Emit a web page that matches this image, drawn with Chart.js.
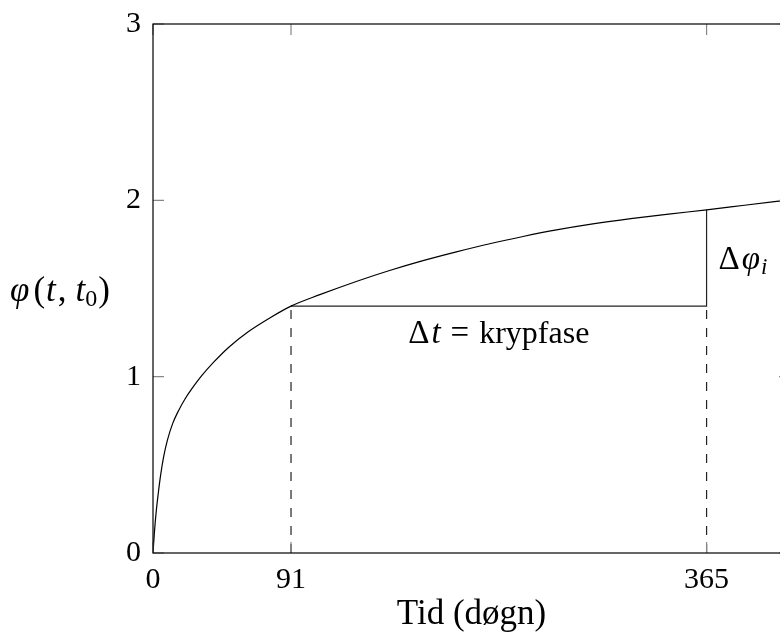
<!DOCTYPE html>
<html>
<head>
<meta charset="utf-8">
<script src="https://cdn.jsdelivr.net/npm/chart.js@4/dist/chart.umd.min.js"></script>
<style>
  html, body { margin: 0; padding: 0; overflow: hidden; background: #fff; }
  canvas { display: block; }
</style>
</head>
<body>
<canvas id="chart" width="800" height="636"></canvas>
<script>
// Creep coefficient phi(t, t0) against time in days
const days  = [0, 1, 2, 3.5, 5, 7, 9.5, 13, 17, 21, 26, 32, 40, 50, 63, 77, 91,
               110, 134, 156, 178, 200, 222, 244, 266, 290, 315, 340, 365, 390, 420];
const creep = [0, 0.125, 0.225, 0.34, 0.44, 0.545, 0.64, 0.735, 0.81, 0.872, 0.936, 1.004, 1.082, 1.167, 1.256, 1.333, 1.400,
               1.465, 1.540, 1.602, 1.658, 1.708, 1.754, 1.795, 1.832, 1.866, 1.896, 1.922, 1.946, 1.972, 2.003];
const xTicks = [0, 91, 365];
const yTicks = [0, 1, 2, 3];
const phaseStart = 91;   // start of the creep phase (days)
const phaseEnd = 365;    // end of the creep phase (days)

const SERIF = '"Liberation Serif", "Times New Roman", serif';
const FS = 30;

const phiAt = d => creep[days.indexOf(d)];
const phiStart = phiAt(phaseStart);
const phiEnd = phiAt(phaseEnd);

const curve = days.map((d, i) => ({ x: d, y: creep[i] }));

// draws a run of differently styled text pieces on one baseline
function drawRich(ctx, parts, x, y, align) {
  let w = 0;
  parts.forEach(p => { ctx.font = p.f; p.w = ctx.measureText(p.t).width + (p.gap || 0); w += p.w; });
  let cx = align === 'center' ? x - w / 2 : x;
  parts.forEach(p => {
    ctx.font = p.f;
    ctx.fillText(p.t, cx, y + (p.dy || 0));
    cx += p.w;
  });
}

const f = (size, style) => `${style ? style + ' ' : ''}${size}px ${SERIF}`;

const framePlugin = {
  id: 'frame',
  afterDatasetsDraw(chart) {
    const { ctx, chartArea: a, scales: { x, y } } = chart;
    ctx.save();

    // inward tick marks on all four sides
    const tl = 11;
    ctx.strokeStyle = '#888';
    ctx.lineWidth = 1.2;
    ctx.beginPath();
    xTicks.forEach(v => {
      const px = x.getPixelForValue(v);
      ctx.moveTo(px, a.bottom); ctx.lineTo(px, a.bottom - tl);
      ctx.moveTo(px, a.top);    ctx.lineTo(px, a.top + tl);
    });
    yTicks.forEach(v => {
      const py = y.getPixelForValue(v);
      ctx.moveTo(a.left, py);  ctx.lineTo(a.left + tl, py);
      ctx.moveTo(a.right, py); ctx.lineTo(a.right - tl, py);
    });
    ctx.stroke();

    // axis frame
    ctx.strokeStyle = '#000';
    ctx.lineWidth = 1.2;
    ctx.strokeRect(a.left, a.top, a.right - a.left, a.bottom - a.top);

    ctx.fillStyle = '#000';
    ctx.textBaseline = 'alphabetic';
    ctx.textAlign = 'left';

    // y-axis label phi(t, t0), horizontal
    const midY = (a.top + a.bottom) / 2;
    drawRich(ctx, [
      { t: 'φ', f: f(35, 'italic'), gap: 4 },
      { t: '(', f: f(35), gap: 1 },
      { t: 't', f: f(35, 'italic'), gap: 2 },
      { t: ',', f: f(35), gap: 9 },
      { t: 't', f: f(35, 'italic') },
      { t: '0', f: f(24), dy: 5, gap: 1 },
      { t: ')', f: f(35) }
    ], 60, midY + 12, 'center');

    // creep phase label under the horizontal segment
    const x0 = x.getPixelForValue(phaseStart), x1 = x.getPixelForValue(phaseEnd);
    const yS = y.getPixelForValue(phiStart), yE = y.getPixelForValue(phiEnd);
    drawRich(ctx, [
      { t: 'Δ', f: f(33), gap: 2 },
      { t: 't', f: f(33, 'italic'), gap: 10 },
      { t: '=', f: f(33), gap: 10 },
      { t: 'krypfase', f: f(32) }
    ], (x0 + x1) / 2, yS + 37, 'center');

    // increment label beside the vertical segment
    drawRich(ctx, [
      { t: 'Δ', f: f(33), gap: 2 },
      { t: 'φ', f: f(33, 'italic'), gap: 1 },
      { t: 'i', f: f(23, 'italic'), dy: 5 }
    ], x1 + 12, (yS + yE) / 2 + 11, 'left');

    ctx.restore();
  }
};

new Chart(document.getElementById('chart'), {
  type: 'line',
  data: {
    datasets: [
      { data: curve, borderColor: '#000', borderWidth: 1.2, pointRadius: 0, cubicInterpolationMode: 'monotone' },
      { data: [{ x: phaseStart, y: phiStart }, { x: phaseEnd, y: phiStart }, { x: phaseEnd, y: phiEnd }],
        borderColor: '#222', borderWidth: 1.2, pointRadius: 0, tension: 0 },
      { data: [{ x: phaseStart, y: 0 }, { x: phaseStart, y: phiStart }],
        borderColor: '#222', borderWidth: 1.2, borderDash: [9, 9], pointRadius: 0 },
      { data: [{ x: phaseEnd, y: 0 }, { x: phaseEnd, y: phiStart }],
        borderColor: '#222', borderWidth: 1.2, borderDash: [9, 9], pointRadius: 0 }
    ]
  },
  options: {
    responsive: false,
    animation: false,
    events: [],
    layout: { padding: { top: 24, right: 10, bottom: 0, left: 0 } },
    plugins: { legend: { display: false }, tooltip: { enabled: false } },
    scales: {
      x: {
        type: 'linear', min: 0, max: 420,
        afterBuildTicks: s => { s.ticks = xTicks.map(v => ({ value: v })); },
        afterFit: s => { s.height = 83; s.paddingLeft = 0; s.paddingRight = 0; },
        grid: { display: false, drawTicks: false },
        border: { display: false },
        ticks: { color: '#000', font: { family: SERIF, size: FS }, padding: 9, maxRotation: 0, autoSkip: false },
        title: { display: true, text: 'Tid (døgn)', color: '#000', font: { family: SERIF, size: 35 }, padding: { top: 0, bottom: 0 } }
      },
      y: {
        type: 'linear', min: 0, max: 3,
        afterBuildTicks: s => { s.ticks = yTicks.map(v => ({ value: v })); },
        afterFit: s => { s.width = 153; s.paddingTop = 0; s.paddingBottom = 0; },
        grid: { display: false, drawTicks: false },
        border: { display: false },
        ticks: { color: '#000', font: { family: SERIF, size: FS }, padding: 12 }
      }
    }
  },
  plugins: [framePlugin]
});
</script>
</body>
</html>
